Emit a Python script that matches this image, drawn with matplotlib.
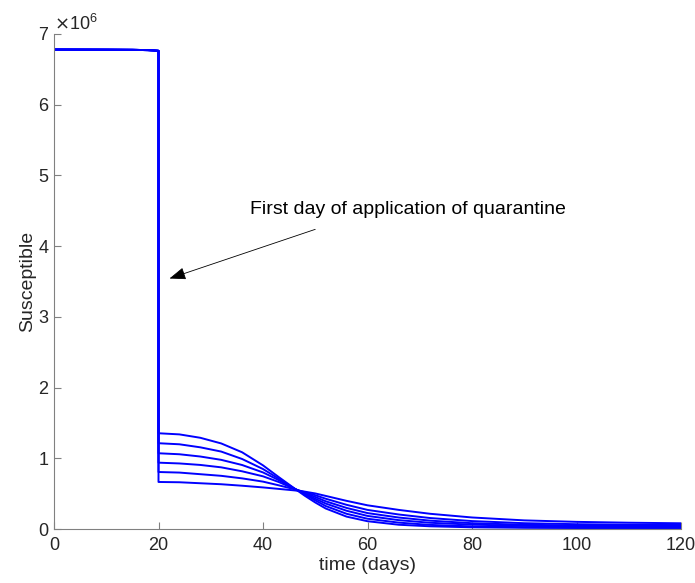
import matplotlib.pyplot as plt
from matplotlib.ticker import ScalarFormatter

plt.rcParams['font.family'] = ['Liberation Sans', 'DejaVu Sans']

# before quarantine: all scenarios share the same path
pre_days = [0, 5, 10, 15, 18, 19, 20]
pre_vals = [6.780, 6.779, 6.778, 6.776, 6.772, 6.768, 6.762]

# after quarantine starts (day 20), values in millions
post_days = [20, 24, 28, 32, 36, 40, 43, 46, 48, 50, 52, 56, 60, 66, 72, 80, 90, 100, 110, 120]
s_a = [1.354, 1.338, 1.290, 1.210, 1.085, 0.900, 0.735, 0.575, 0.470, 0.375, 0.290, 0.175, 0.110, 0.060, 0.038, 0.024, 0.017, 0.014, 0.013, 0.012]
s_b = [1.213, 1.198, 1.155, 1.095, 0.990, 0.848, 0.712, 0.572, 0.488, 0.405, 0.325, 0.215, 0.145, 0.090, 0.058, 0.037, 0.026, 0.022, 0.021, 0.020]
s_c = [1.071, 1.057, 1.025, 0.978, 0.905, 0.800, 0.692, 0.570, 0.500, 0.428, 0.360, 0.258, 0.185, 0.125, 0.088, 0.062, 0.044, 0.036, 0.033, 0.031]
s_d = [0.938, 0.927, 0.906, 0.872, 0.816, 0.745, 0.665, 0.568, 0.512, 0.453, 0.392, 0.298, 0.225, 0.162, 0.118, 0.082, 0.060, 0.050, 0.046, 0.044]
s_e = [0.806, 0.798, 0.775, 0.752, 0.716, 0.670, 0.618, 0.563, 0.522, 0.478, 0.428, 0.342, 0.270, 0.205, 0.155, 0.112, 0.082, 0.068, 0.061, 0.058]
s_f = [0.665, 0.661, 0.647, 0.633, 0.612, 0.588, 0.567, 0.546, 0.528, 0.503, 0.468, 0.398, 0.335, 0.270, 0.215, 0.163, 0.122, 0.101, 0.089, 0.081]
scenarios = [s_a, s_b, s_c, s_d, s_e, s_f]

x_ticks = [0, 20, 40, 60, 80, 100, 120]
y_ticks = [0, 1, 2, 3, 4, 5, 6, 7]

fig = plt.figure(figsize=(6.95, 5.83), dpi=100)
ax = fig.add_axes([54 / 695, 1 - 529 / 583, (681 - 54) / 695, (529 - 34) / 583])

for s in scenarios:
    xs = pre_days + post_days
    ys = [v * 1e6 for v in pre_vals + s]
    ax.plot(xs, ys, color=(0, 0, 1), lw=1.4)

ax.set_xlim(0, 120)
ax.set_ylim(0, 7e6)
ax.set_xticks(x_ticks)
ax.set_yticks([v * 1e6 for v in y_ticks])

fmt = ScalarFormatter(useMathText=True)
fmt.set_powerlimits((0, 0))
ax.yaxis.set_major_formatter(fmt)
ax.yaxis.get_offset_text().set_fontsize(13)
ax.yaxis.get_offset_text().set_color('#262626')

for side in ['top', 'right']:
    ax.spines[side].set_visible(False)
for side in ['left', 'bottom']:
    ax.spines[side].set_color('#808080')
    ax.spines[side].set_linewidth(0.8)
ax.tick_params(direction='in', length=5, width=0.8, color='#808080',
               labelsize=13, labelcolor='#262626')
ax.tick_params(axis='x', pad=6)

ax.set_xlabel('time (days)', fontsize=14, color='#262626', labelpad=2)
ax.set_ylabel('Susceptible', fontsize=14, color='#262626', labelpad=1)

ax.annotate('', xy=(21.6, 3.53e6), xytext=(50.5, 4.25e6),
            arrowprops=dict(arrowstyle='-|>,head_length=1.0,head_width=0.38',
                            color='black', lw=0.6))
ax.text(37.5, 4.52e6, 'First day of application of quarantine',
        fontsize=14, color='black', va='center', ha='left')

fig.savefig('out.png', dpi=100)
